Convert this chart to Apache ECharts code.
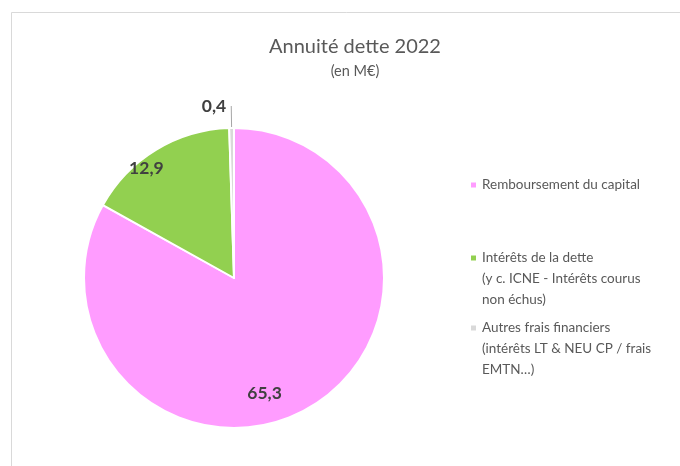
<!DOCTYPE html>
<html>
<head>
<meta charset="utf-8">
<script src="https://cdn.jsdelivr.net/npm/echarts@6/dist/echarts.min.js"></script>
<style>
  html, body { margin: 0; padding: 0; background: #ffffff; }
  #chart { width: 680px; height: 466px; }
</style>
</head>
<body>
<div id="chart"></div>
<script>
// Annuité de la dette 2022, en M€
const categories = [
  'Remboursement du capital',
  'Intérêts de la dette\n(y c. ICNE - Intérêts courus\nnon échus)',
  'Autres frais financiers\n(intérêts LT & NEU CP / frais\nEMTN…)'
];
const values = [65.3, 12.9, 0.4];
const colors = ['#FF9CFF', '#92D050', '#D9D9D9'];

const FONT = 'Lato';
const TEXT = '#595959';
const LINE_H = 21;

function fmt(v) { return String(v).replace('.', ','); }

// one legend block per category; blank lines before the text keep the
// icon level with the first line of a multi-line entry
const legendTops = [174.5, 205.5, 275.5];
const legends = categories.map(function (name, i) {
  const lines = name.split('\n').length;
  return {
    data: [name],
    orient: 'vertical',
    left: 469,
    top: legendTops[i],
    padding: 0,
    itemWidth: 7,
    itemHeight: 7,
    itemGap: 3,
    icon: 'rect',
    selectedMode: false,
    formatter: function (n) {
      return ' \n'.repeat(lines - 1) + n;
    },
    textStyle: {
      fontFamily: FONT,
      fontSize: 13.5,
      color: TEXT,
      lineHeight: LINE_H
    }
  };
});

const labelTweaks = [
  { position: 'inside', offset: [-9, 48] },
  { position: 'inside', offset: [-47, -43] },
  { position: 'outside' }
];

const chart = echarts.init(document.getElementById('chart'), null, { renderer: 'canvas' });
chart.setOption({
  animation: false,
  backgroundColor: '#ffffff',
  title: {
    text: 'Annuité dette 2022',
    subtext: '(en M€)',
    left: 350,
    textAlign: 'center',
    top: 32,
    itemGap: 7,
    textStyle: { fontFamily: FONT, fontSize: 20, fontWeight: 'normal', color: TEXT },
    subtextStyle: { fontFamily: FONT, fontSize: 14.5, color: TEXT }
  },
  graphic: [{
    type: 'rect',
    silent: true,
    shape: { x: 11.5, y: 12.5, width: 720, height: 520 },
    style: { fill: 'none', stroke: '#D9D9D9', lineWidth: 1 }
  }],
  legend: legends,
  series: [{
    type: 'pie',
    center: [234, 278],
    radius: 150,
    startAngle: 90,
    clockwise: true,
    avoidLabelOverlap: false,
    itemStyle: { borderColor: '#ffffff', borderWidth: 2 },
    label: {
      fontFamily: FONT,
      fontSize: 17.5,
      fontWeight: 'bold',
      color: '#404040',
      formatter: function (p) { return fmt(p.value); }
    },
    labelLine: { length: 22, length2: 0, lineStyle: { color: '#A6A6A6', width: 1 } },
    data: categories.map(function (name, i) {
      return {
        name: name,
        value: values[i],
        itemStyle: { color: colors[i] },
        label: labelTweaks[i],
        labelLine: { show: i === 2 }
      };
    })
  }]
});
</script>
</body>
</html>
